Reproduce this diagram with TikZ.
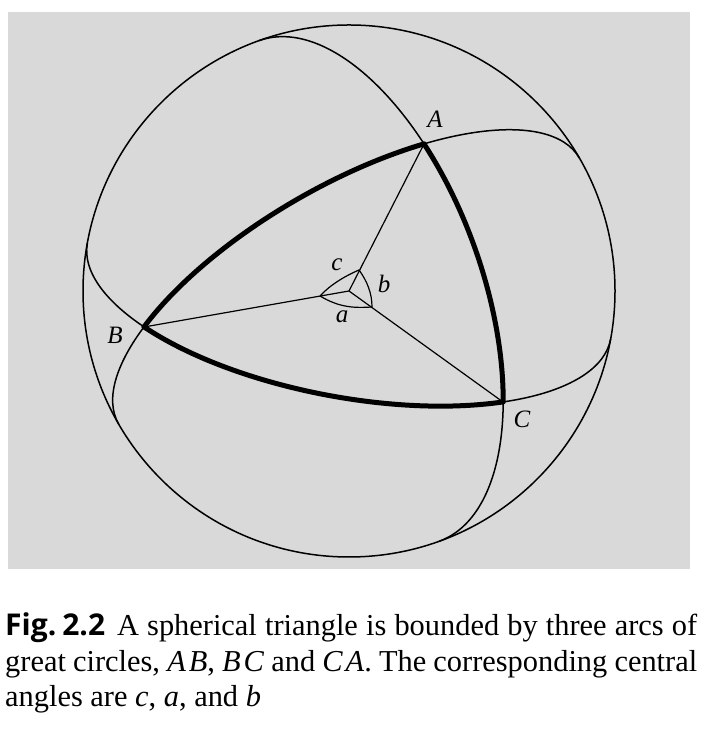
\documentclass[tikz,border=0pt]{standalone}
\usepackage{fontspec}
\setmainfont{Liberation Serif}
\newfontfamily\capsans{Open Sans}
\begin{document}
\begin{tikzpicture}[x=1pt,y=1pt,
  fine/.style={line width=1.5pt,black},
  spoke/.style={line width=1.2pt,black},
  heavy/.style={line width=5pt,black,line cap=round},
  vlabel/.style={font=\fontsize{25}{25}\selectfont\itshape,inner sep=0pt},
  alabel/.style={font=\fontsize{25}{25}\selectfont\itshape,inner sep=0pt},
  capline/.style={anchor=base west,inner sep=0pt,font=\fontsize{30.4}{32}\selectfont}]
\useasboundingbox (0,0) rectangle (702,730);
\fill[fill=white] (0,0) rectangle (702,730);
\fill[fill={rgb,255:red,217;green,217;blue,217}] (8,161) rectangle (690,718);
\coordinate (O) at (349,439);
\coordinate (A) at (424,586);
\coordinate (B) at (144,403);
\coordinate (C) at (503,328);
\coordinate (pa) at (359,460);
\coordinate (pb) at (320,434);
\coordinate (pc) at (372,423);
% limb
\draw[fine] (O) circle[radius=266pt];
% circle AB
\begin{scope}[shift={(O)},rotate=30]
\draw[fine] (0:266pt and 105.3pt) arc[start angle=0,end angle=180,x radius=266pt,y radius=105.3pt];
\draw[heavy] (58.6:266pt and 105.3pt) arc[start angle=58.6,end angle=137.3,x radius=266pt,y radius=105.3pt];
\end{scope}
% circle BC
\begin{scope}[shift={(O)},rotate=-10.4]
\draw[fine] (-180:266pt and 106.4pt) arc[start angle=-180,end angle=0,x radius=266pt,y radius=106.4pt];
\draw[heavy] (-137.2:266pt and 106.4pt) arc[start angle=-137.2,end angle=-49.9,x radius=266pt,y radius=106.4pt];
\end{scope}
% circle CA
\begin{scope}[shift={(O)},rotate=109.8]
\draw[fine] (0:266pt and 133pt) arc[start angle=0,end angle=-180,x radius=266pt,y radius=133pt];
\draw[heavy] (-64.9:266pt and 133pt) arc[start angle=-64.9,end angle=-126.1,x radius=266pt,y radius=133pt];
\end{scope}
% spokes
\draw[spoke] (O) -- (A);
\draw[spoke] (O) -- (B);
\draw[spoke] (O) -- (C);
% central angles
\draw[spoke] (pb) .. controls (330,445) and (345,454) .. (pa);
\draw[spoke] (pa) .. controls (367,449) and (372,437) .. (pc);
\draw[spoke] (pb) .. controls (340,422) and (355,422) .. (pc);
% labels
\node[vlabel] (lA) at (435,611) {A};
\node[vlabel] (lB) at (115,395) {B};
\node[vlabel] (lC) at (522,311) {C};
\node[alabel] (la) at (342,413) {a};
\node[alabel] (lb) at (384,446) {b};
\node[alabel] (lc) at (337,465) {c};
% caption
\node[capline] (cap1) at (5,94) {\hbox to 692pt{{\capsans\bfseries\fontsize{30}{32}\selectfont Fig.\kern6pt 2.2}\hskip 12pt A spherical triangle is bounded by three arcs of}};
\node[capline] (cap2) at (5,58) {\hbox to 692pt{great circles, \textit{A\kern3pt B}, \textit{B\kern3pt C} and \textit{C\kern3pt A}. The corresponding central}};
\node[capline] (cap3) at (5,23) {angles are \textit{c}, \textit{a}, and \textit{b}};
\end{tikzpicture}
\end{document}
